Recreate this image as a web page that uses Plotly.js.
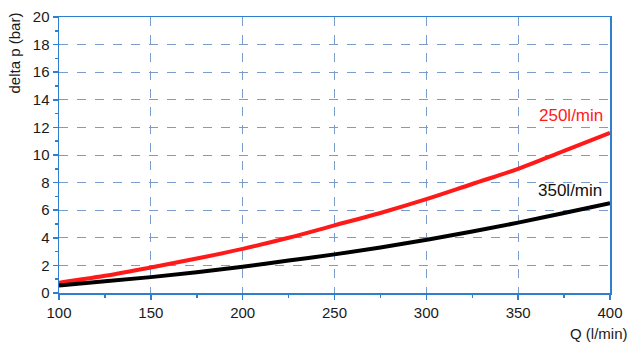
<!DOCTYPE html>
<html>
<head>
<meta charset="utf-8">
<script src="https://cdn.plot.ly/plotly-3.0.1.min.js"></script>
<style>html,body{margin:0;padding:0;background:#fff;}#chart{width:631px;height:345px;}</style>
</head>
<body>
<div id="chart"></div>
<script>
const flowQ = [100, 125, 150, 175, 200, 225, 250, 275, 300, 325, 350, 375, 400];
const dp250 = [0.75, 1.25, 1.85, 2.5, 3.2, 4.0, 4.9, 5.8, 6.8, 7.9, 9.0, 10.3, 11.6];
const dp350 = [0.55, 0.85, 1.15, 1.5, 1.9, 2.35, 2.8, 3.3, 3.85, 4.45, 5.1, 5.8, 6.5];
const seriesNames = ["250l/min", "350l/min"];
const xTicks = [100, 150, 200, 250, 300, 350, 400];
const yTicks = [0, 2, 4, 6, 8, 10, 12, 14, 16, 18, 20];

const axisColor = '#2f7fcf';
const gridColor = '#7a9ccc';
const fam = 'Liberation Sans, Arial, sans-serif';
const font = {family: fam, size: 15, color: '#1a1a1a'};

const traces = [
  {x: flowQ, y: dp250, mode: 'lines', line: {color: '#ff1a1a', width: 4, shape: 'spline'}, name: seriesNames[0], hoverinfo: 'skip'},
  {x: flowQ, y: dp350, mode: 'lines', line: {color: '#000000', width: 4, shape: 'spline'}, name: seriesNames[1], hoverinfo: 'skip'}
];

const layout = {
  width: 631, height: 345,
  margin: {l: 59, r: 21, t: 17, b: 52},
  paper_bgcolor: '#fff', plot_bgcolor: '#fff',
  showlegend: false,
  font: font,
  xaxis: {
    range: [100, 400], tickvals: xTicks, ticktext: xTicks.map(String),
    showline: true, linecolor: axisColor, linewidth: 1.5, mirror: true,
    showgrid: true, gridcolor: gridColor, griddash: 'dash', gridwidth: 1,
    ticks: 'outside', ticklen: 5, tickcolor: axisColor, tickwidth: 1.5,
    minor: {tickvals: [125, 175, 225, 275, 325, 375], ticks: 'outside', ticklen: 3, tickcolor: axisColor, showgrid: false},
    zeroline: false, tickfont: font, fixedrange: true
  },
  yaxis: {
    range: [0, 20], tickvals: yTicks, ticktext: yTicks.map(String),
    showline: true, linecolor: axisColor, linewidth: 1.5, mirror: true,
    showgrid: true, gridcolor: gridColor, griddash: 'dash', gridwidth: 1,
    ticks: 'outside', ticklen: 5, tickcolor: axisColor, tickwidth: 1.5,
    minor: {tickvals: [1, 3, 5, 7, 9, 11, 13, 15, 17, 19], ticks: 'outside', ticklen: 3, tickcolor: axisColor, showgrid: false},
    zeroline: false, tickfont: font, fixedrange: true
  },
  annotations: [
    {text: 'delta p (bar)', textangle: -90, xref: 'paper', yref: 'paper', x: 0, y: 1, xanchor: 'center', yanchor: 'top', xshift: -45, yshift: 6, showarrow: false, font: {family: fam, size: 15, color: '#1a1a1a'}},
    {text: 'Q (l/min)', xref: 'paper', yref: 'paper', x: 1, y: 0, xanchor: 'right', yanchor: 'top', xshift: 20, yshift: -30, showarrow: false, font: {family: fam, size: 15, color: '#1a1a1a'}},
    {text: seriesNames[0], xref: 'x', yref: 'y', x: 400, y: dp250[12], xanchor: 'right', yanchor: 'bottom', xshift: -5, yshift: 6, showarrow: false, font: {family: fam, size: 17, color: '#ff1a1a'}},
    {text: seriesNames[1], xref: 'x', yref: 'y', x: 400, y: dp350[12], xanchor: 'right', yanchor: 'bottom', xshift: -6, yshift: 1, showarrow: false, font: {family: fam, size: 17, color: '#111'}}
  ]
};

Plotly.newPlot('chart', traces, layout, {displayModeBar: false, staticPlot: true});
</script>
</body>
</html>
